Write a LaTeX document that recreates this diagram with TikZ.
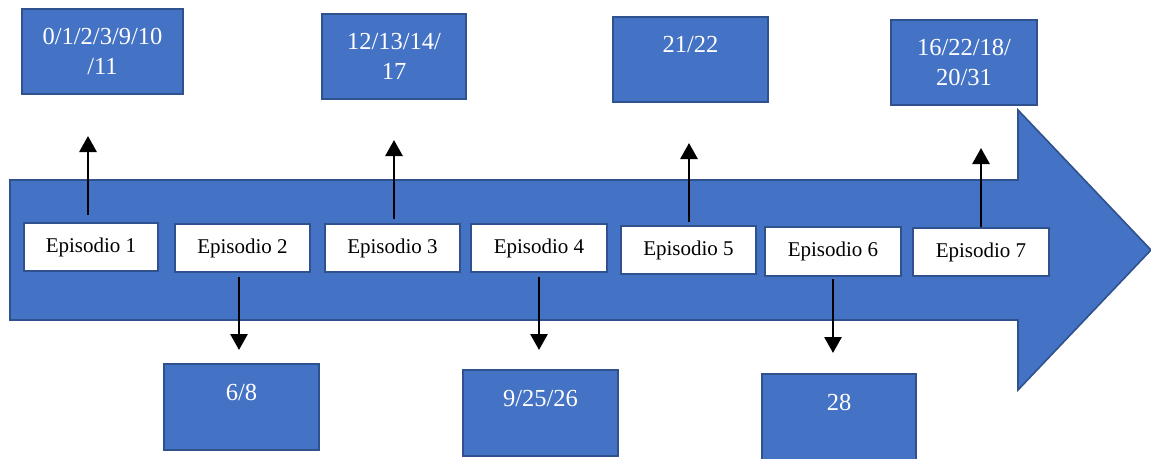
\documentclass[tikz,border=0pt]{standalone}
\usepackage{fontspec}
\setmainfont{Liberation Serif}
\usetikzlibrary{arrows.meta}
\definecolor{accent}{HTML}{4472C4}
\definecolor{accentdark}{HTML}{2F528F}
\tikzset{
  band/.style={fill=accent, draw=accentdark, line width=1.6pt, line join=miter},
  episode/.style={draw=accentdark, fill=white, line width=2.2pt, inner sep=0pt,
    font=\fontsize{21}{25}\selectfont, text=black},
  scene/.style={draw=accentdark, fill=accent, line width=2.2pt, inner sep=0pt,
    align=center, text=white, font=\fontsize{24.5}{30}\selectfont},
  conn/.style={line width=2.8pt, -{Triangle[length=16pt,width=17pt]}}
}
\begin{document}
\begin{tikzpicture}[x=1pt,y=-1pt]
\useasboundingbox (0,0) rectangle (1151,458);
\clip (0,0) rectangle (1151,458);

% timeline arrow
\path[band] (10,180) -- (1018,180) -- (1018,110) -- (1151,250)
  -- (1018,390) -- (1018,320) -- (10,320) -- cycle;

% episodes along the timeline
\node[episode, minimum width=134, minimum height=48] (ep1) at (91,247) {Episodio 1};
\node[episode, minimum width=135, minimum height=48] (ep2) at (242.5,248) {Episodio 2};
\node[episode, minimum width=135, minimum height=48] (ep3) at (392.5,248) {Episodio 3};
\node[episode, minimum width=136, minimum height=48] (ep4) at (539,248) {Episodio 4};
\node[episode, minimum width=135, minimum height=48] (ep5) at (688.5,250) {Episodio 5};
\node[episode, minimum width=136, minimum height=49] (ep6) at (833,251.5) {Episodio 6};
\node[episode, minimum width=136, minimum height=48] (ep7) at (981,252) {Episodio 7};

% scene boxes above
\node[scene, minimum width=161, minimum height=85] (s1) at (102.5,51.5) {0/1/2/3/9/10\\/11};
\node[scene, minimum width=144, minimum height=85] (s3) at (394,56.5) {12/13/14/\\17};
\node[scene, minimum width=155, minimum height=85] (s5) at (690.5,59.5) {21/22\\\mbox{}};
\node[scene, minimum width=146, minimum height=85] (s7) at (964,62.5) {16/22/18/\\20/31};

% scene boxes below
\node[scene, minimum width=155, minimum height=86] (s2) at (241.5,407) {6/8\\\mbox{}};
\node[scene, minimum width=155, minimum height=86] (s4) at (540.5,413) {9/25/26\\\mbox{}};
\node[scene, minimum width=154, minimum height=86] (s6) at (839,417) {28\\\mbox{}};

% arrow ends
\coordinate (u1) at (88,136);
\coordinate (u3) at (394,140);
\coordinate (u5) at (689,143);
\coordinate (u7) at (981,148);
\coordinate (d2) at (239,350);
\coordinate (d4) at (539,350);
\coordinate (d6) at (833,353);

\draw[conn, shorten <=7pt] (u1 |- ep1.north) -- (u1);
\draw[conn, shorten <=4pt] (u3 |- ep3.north) -- (u3);
\draw[conn, shorten <=3pt] (u5 |- ep5.north) -- (u5);
\draw[conn] (u7 |- ep7.north) -- (u7);
\draw[conn, shorten <=4pt] (d2 |- ep2.south) -- (d2);
\draw[conn, shorten <=4pt] (d4 |- ep4.south) -- (d4);
\draw[conn, shorten <=2pt] (d6 |- ep6.south) -- (d6);
\end{tikzpicture}
\end{document}
